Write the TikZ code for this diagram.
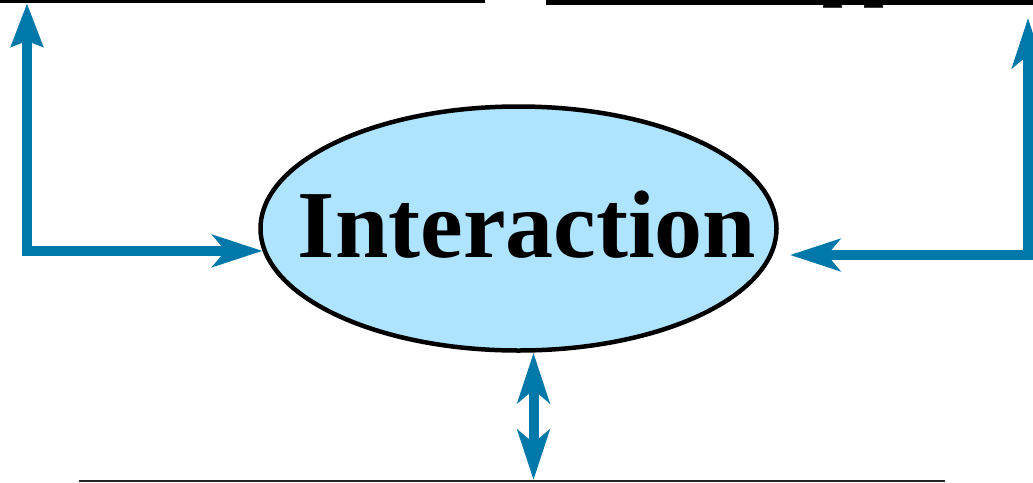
\documentclass[tikz,border=0pt]{standalone}
\usepackage{fontspec}
\setmainfont{Liberation Serif}
\usetikzlibrary{arrows.meta,shapes.geometric,calc}
\definecolor{flowblue}{RGB}{0,120,170}
\definecolor{ellfill}{RGB}{174,228,255}
\begin{document}
\begin{tikzpicture}[x=1pt,y=-1pt,
  tipA/.tip={Stealth[length=50pt,width=32pt,inset=13pt]},
  tipB/.tip={Stealth[length=43pt,width=31pt,inset=5pt]},
  conn/.style={draw=flowblue, line width=10pt, line join=miter},
  frame/.style={draw=black, fill=none, inner sep=0pt}]
\useasboundingbox (0,0) rectangle (1033,482);
\clip (0,0) rectangle (1033,482);
% partly visible boxes
\node[frame, line width=3pt, minimum width=497pt, minimum height=200pt, anchor=south west] (tl) at (-15,3) {};
\node[anchor=base west, inner sep=0pt, font=\bfseries\fontsize{74}{74}\selectfont] (ttext) at (822,-8) {pp};
\node[frame, line width=5pt, minimum width=520pt, minimum height=200pt, anchor=south west] (tr) at (546,5) {};
\node[inner sep=0pt, outer sep=0pt, minimum width=866pt, minimum height=100pt, anchor=north west] (bot) at (79,480) {};
\draw[line width=2pt, black!85] ([yshift=-1pt]bot.north west) -- ([yshift=-1pt]bot.north east);
% central ellipse
\node[ellipse, draw=black, fill=ellfill, line width=4.5pt, inner sep=0pt,
      minimum width=516pt, minimum height=244pt] (el) at (518.5,228.5) {};
\node[anchor=base, inner sep=0pt, font=\bfseries\fontsize{96}{96}\selectfont] (lbl) at (527,257) {Interaction};
% connectors
\draw[conn, {tipB}-{tipA}] ($(tl.south west)+(42,0)$) |- (el.185.4);
\coordinate (rtop) at (1028,18);
\coordinate (rtip) at (790,255);
\draw[conn, {tipA}-{tipA}] (rtop) |- (rtip);
\coordinate (bs) at ([xshift=15pt]el.south);
\draw[conn, {tipA}-{tipA}] (bs) -- (bs |- bot.north);
\end{tikzpicture}
\end{document}
